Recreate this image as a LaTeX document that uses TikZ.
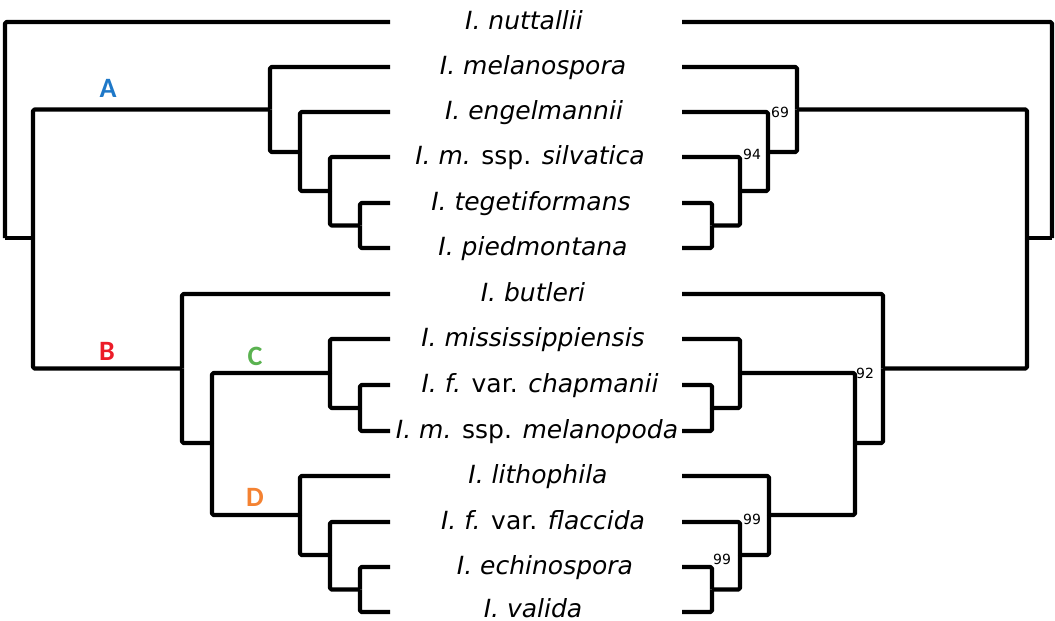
\documentclass[tikz,border=0pt]{standalone}
\usepackage{fontspec}
\newfontfamily\dv{DejaVu Sans}
\newfontfamily\cb{Carlito}
\definecolor{cA}{RGB}{30,120,200}
\definecolor{cB}{RGB}{236,28,40}
\definecolor{cC}{RGB}{90,178,80}
\definecolor{cD}{RGB}{244,130,50}
\begin{document}
\begin{tikzpicture}[x=1pt,y=-1pt,
  br/.style={line width=4.2pt, line join=round, rounded corners=1.5pt},
  sp/.style={anchor=base, inner sep=0pt, font=\dv\itshape\fontsize{25}{30}\selectfont},
  bs/.style={anchor=base west, inner sep=0pt, font=\dv\fontsize{14}{16}\selectfont},
  cl/.style={inner sep=0pt, font=\cb\bfseries\fontsize{28}{32}\selectfont}]
\useasboundingbox (0,0) rectangle (1055,621);
% leaf end points
\foreach \i/\y in {0/22,1/67,2/112,3/157,4/203,5/248,6/294,7/339,8/385,9/431,10/476,11/522,12/567,13/612}{
  \coordinate (L\i) at (390,\y);
  \coordinate (R\i) at (682,\y);
}
% species labels
\node[sp] (t0) at (524,29) {I. nuttallii};
\node[sp] (t1) at (533,74) {I. melanospora};
\node[sp] (t2) at (534,119) {I. engelmannii};
\node[sp] (t3) at (530,164) {I. m. {\upshape ssp.} silvatica};
\node[sp] (t4) at (531,210) {I. tegetiformans};
\node[sp] (t5) at (533,255) {I. piedmontana};
\node[sp] (t6) at (533,301) {I. butleri};
\node[sp] (t7) at (533,346) {I. mississippiensis};
\node[sp] (t8) at (540,392) {I. f. {\upshape var.} chapmanii};
\node[sp] (t9) at (537,438) {I. m. {\upshape ssp.} melanopoda};
\node[sp] (t10) at (538,483) {I. lithophila};
\node[sp] (t11) at (543,529) {I. f. {\upshape var.} flaccida};
\node[sp] (t12) at (545,574) {I. echinospora};
\node[sp] (t13) at (533,617) {I. valida};
% left tree internal nodes
\coordinate (Lroot) at (5,238);
\coordinate (LAB) at (33,238);
\coordinate (LA) at (270,109.5);
\coordinate (L3n) at (300,152);
\coordinate (L2n) at (330,191);
\coordinate (L1n) at (360,225.5);
\coordinate (LB) at (182,368.5);
\coordinate (LCD) at (212,443);
\coordinate (LC) at (330,373);
\coordinate (LC1) at (360,408);
\coordinate (LD) at (300,515);
\coordinate (LD1) at (330,555);
\coordinate (LD2) at (360,589.5);
\draw[br] (Lroot) |- (L0);
\draw[br] (Lroot) -- (LAB);
\draw[br] (LAB) |- (LA);
\draw[br] (LAB) |- (LB);
\draw[br] (LA) |- (L1);
\draw[br] (LA) |- (L3n);
\draw[br] (L3n) |- (L2);
\draw[br] (L3n) |- (L2n);
\draw[br] (L2n) |- (L3);
\draw[br] (L2n) |- (L1n);
\draw[br] (L1n) |- (L4);
\draw[br] (L1n) |- (L5);
\draw[br] (LB) |- (L6);
\draw[br] (LB) |- (LCD);
\draw[br] (LCD) |- (LC);
\draw[br] (LCD) |- (LD);
\draw[br] (LC) |- (L7);
\draw[br] (LC) |- (LC1);
\draw[br] (LC1) |- (L8);
\draw[br] (LC1) |- (L9);
\draw[br] (LD) |- (L10);
\draw[br] (LD) |- (LD1);
\draw[br] (LD1) |- (L11);
\draw[br] (LD1) |- (LD2);
\draw[br] (LD2) |- (L12);
\draw[br] (LD2) |- (L13);
% right tree internal nodes
\coordinate (Rroot) at (1052,238);
\coordinate (RAB) at (1027,238);
\coordinate (RA) at (797,109.5);
\coordinate (R3n) at (768,152);
\coordinate (R2n) at (740,191);
\coordinate (R1n) at (712,225.5);
\coordinate (RB) at (883,368.5);
\coordinate (RCD) at (855,443);
\coordinate (RC) at (740,373);
\coordinate (RC1) at (712,408);
\coordinate (RD) at (769,515);
\coordinate (RD1) at (740,555);
\coordinate (RD2) at (712,589.5);
\draw[br] (Rroot) |- (R0);
\draw[br] (Rroot) -- (RAB);
\draw[br] (RAB) |- (RA);
\draw[br] (RAB) |- (RB);
\draw[br] (RA) |- (R1);
\draw[br] (RA) |- (R3n);
\draw[br] (R3n) |- (R2);
\draw[br] (R3n) |- (R2n);
\draw[br] (R2n) |- (R3);
\draw[br] (R2n) |- (R1n);
\draw[br] (R1n) |- (R4);
\draw[br] (R1n) |- (R5);
\draw[br] (RB) |- (R6);
\draw[br] (RB) |- (RCD);
\draw[br] (RCD) |- (RC);
\draw[br] (RCD) |- (RD);
\draw[br] (RC) |- (R7);
\draw[br] (RC) |- (RC1);
\draw[br] (RC1) |- (R8);
\draw[br] (RC1) |- (R9);
\draw[br] (RD) |- (R10);
\draw[br] (RD) |- (RD1);
\draw[br] (RD1) |- (R11);
\draw[br] (RD1) |- (RD2);
\draw[br] (RD2) |- (R12);
\draw[br] (RD2) |- (R13);
% bootstrap values
\node[bs] (b69) at (771,117) {69};
\node[bs] (b94) at (743,159) {94};
\node[bs] (b92) at (856,378) {92};
\node[bs] (b99a) at (743,524) {99};
\node[bs] (b99b) at (713,564) {99};
% clade letters
\node[cl, text=cA] (cla) at (108,88.5) {A};
\node[cl, text=cB] (clb) at (107,351) {B};
\node[cl, text=cC] (clc) at (255,356) {C};
\node[cl, text=cD] (cld) at (255,497) {D};
\end{tikzpicture}
\end{document}
